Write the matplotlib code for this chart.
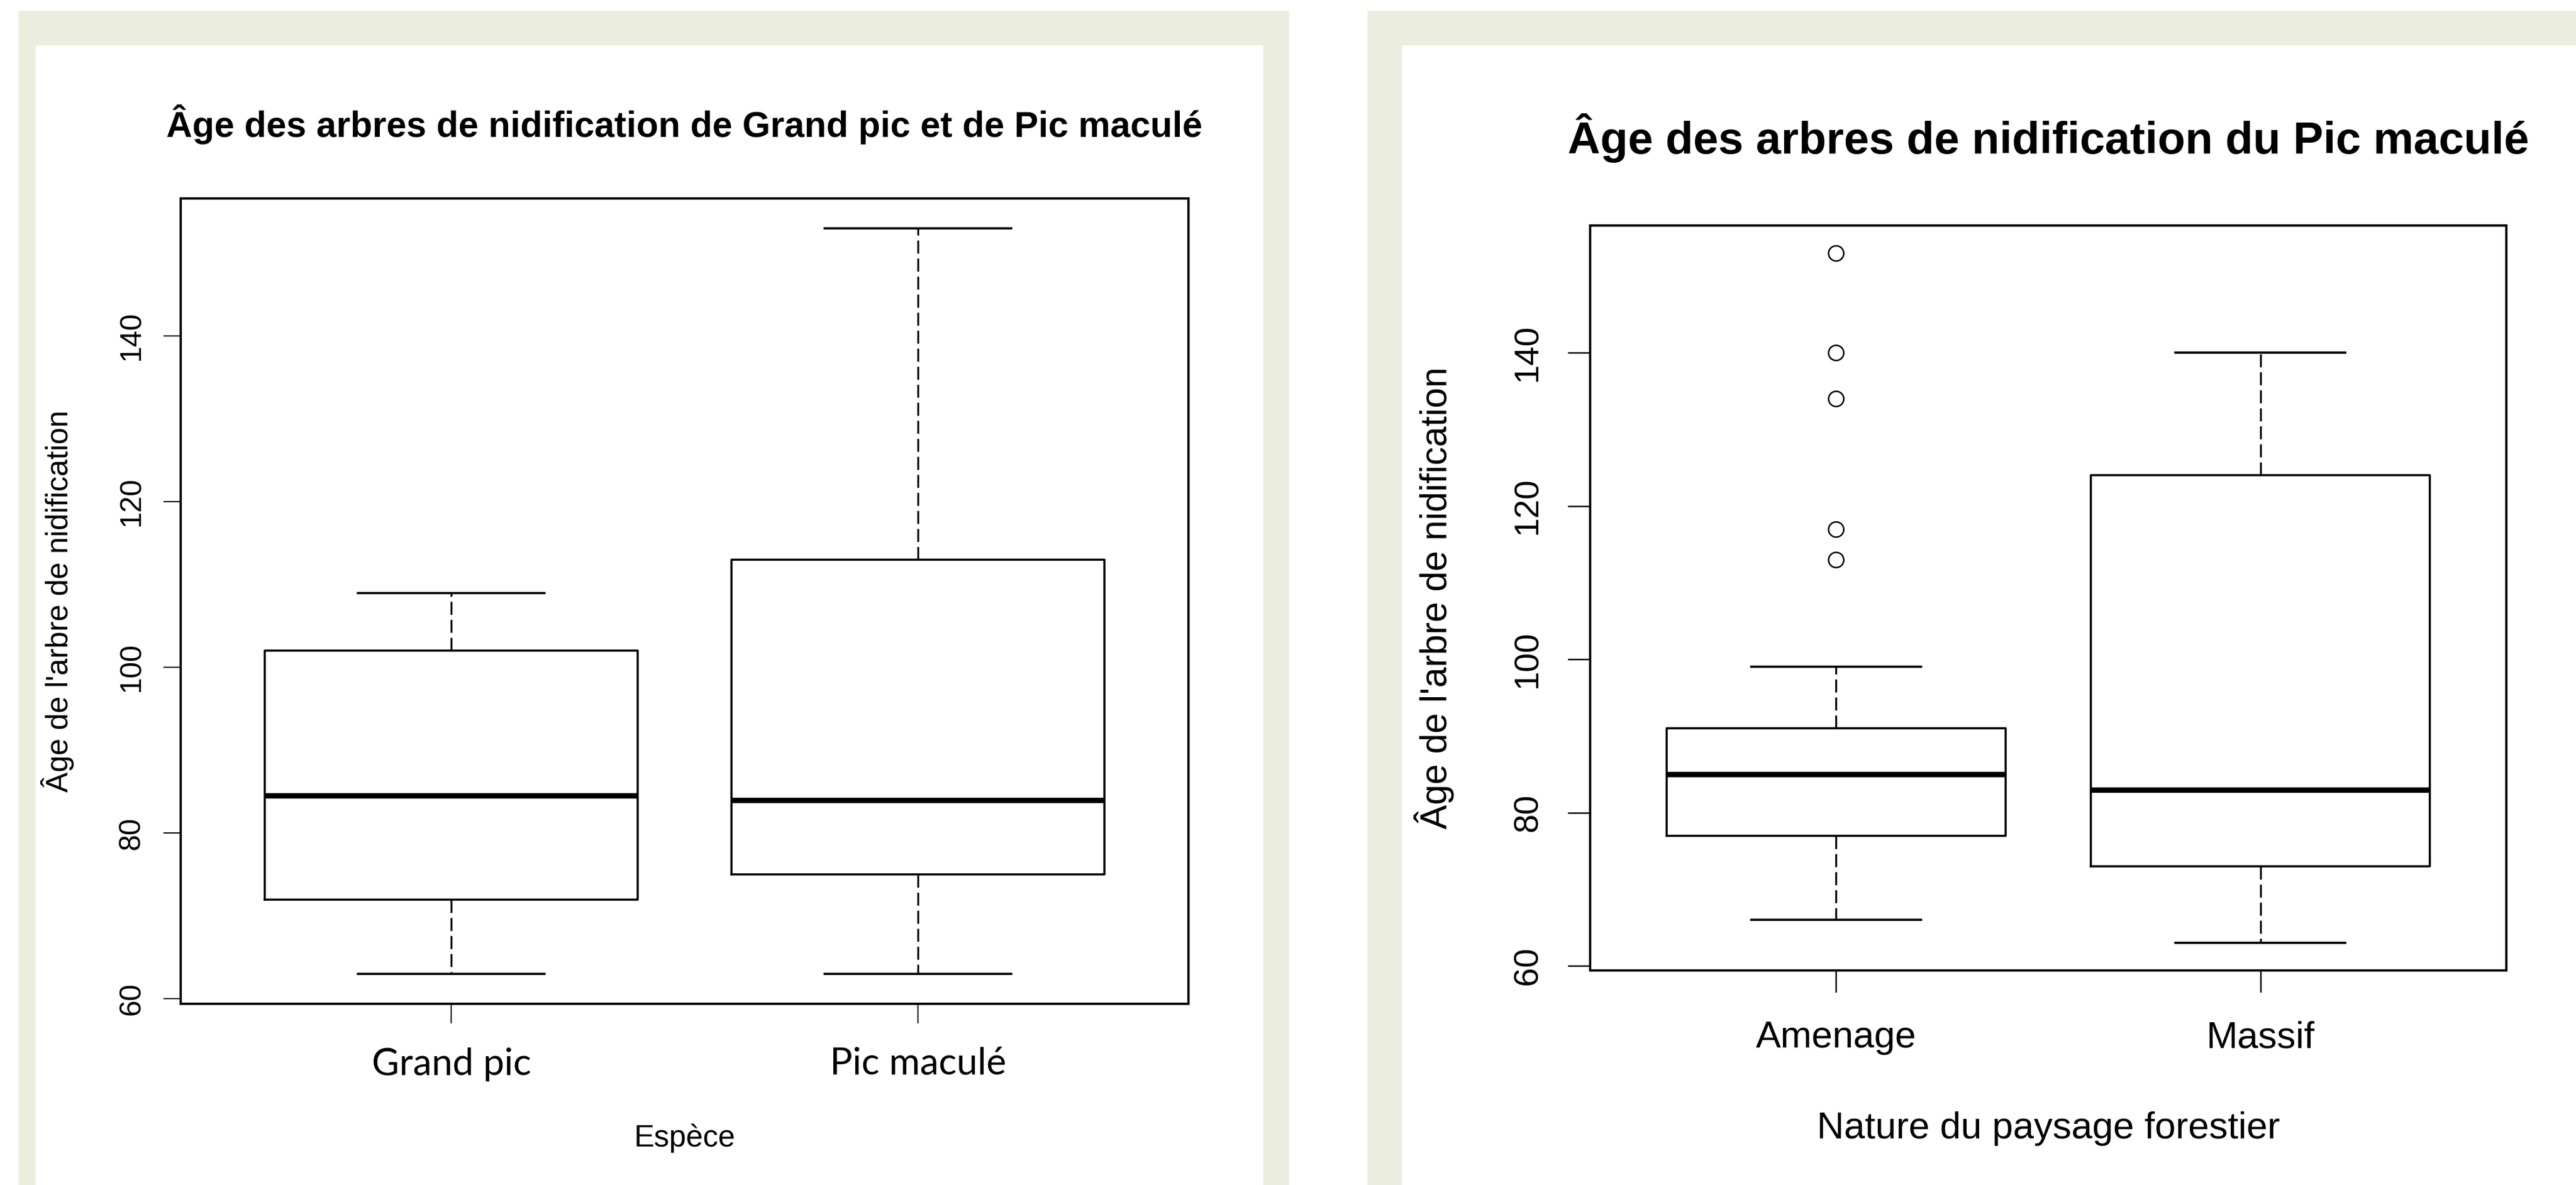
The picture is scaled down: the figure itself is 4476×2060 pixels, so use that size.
import matplotlib
matplotlib.use("Agg")
import matplotlib.pyplot as plt
from matplotlib.patches import Rectangle

# Boxplot summaries
species = ["Grand pic", "Pic maculé"]
sp_whislo = [63, 63]
sp_q1 = [72, 75]
sp_med = [84.5, 84]
sp_q3 = [102, 113]
sp_whishi = [109, 153]

landscape = ["Amenage", "Massif"]
ld_whislo = [66, 63]
ld_q1 = [77, 73]
ld_med = [85, 83]
ld_q3 = [91, 124]
ld_whishi = [99, 140]
ld_fliers = [[153, 140, 134, 117, 113], []]

yticks = [60, 80, 100, 120, 140]

W, H = 4476, 2060
BEIGE = "#EBEEDF"
R_FONT = "Liberation Sans"

fig = plt.figure(figsize=(W / 100, H / 100), dpi=100)


def rect(x0, y0, x1, y1, color):
    # pixel box (top-left origin) -> figure coords
    fig.add_artist(Rectangle((x0 / W, 1 - y1 / H), (x1 - x0) / W, (y1 - y0) / H,
                             transform=fig.transFigure, color=color, lw=0, zorder=-5))


def axes_px(x0, y0, x1, y1):
    return fig.add_axes([x0 / W, 1 - y1 / H, (x1 - x0) / W, (y1 - y0) / H])


# slide-like frames around both panels
rect(32, 19, 2240, H, BEIGE)
rect(62, 79, 2195, H, "white")
rect(2376, 19, W, H, BEIGE)
rect(2436, 79, W, H, "white")


def stats(labels, lo, q1, med, q3, hi, fliers=None):
    out = []
    for i, lab in enumerate(labels):
        out.append(dict(label=lab, whislo=lo[i], q1=q1[i], med=med[i], q3=q3[i],
                        whishi=hi[i], fliers=fliers[i] if fliers else []))
    return out


def r_boxplot(ax, st):
    ax.bxp(st, positions=[1, 2], widths=0.8, capwidths=0.4, showfliers=True,
           boxprops=dict(color="black", lw=2.6),
           medianprops=dict(color="black", lw=6.8, solid_capstyle="butt"),
           whiskerprops=dict(color="black", lw=2.4, linestyle=(0, (6.8, 2.6))),
           capprops=dict(color="black", lw=2.8),
           flierprops=dict(marker="o", markerfacecolor="none", markeredgecolor="black",
                           markersize=19, markeredgewidth=1.9))
    ax.set_xlim(0.42, 2.58)
    ax.set_ylim(59.4, 156.6)
    for s in ax.spines.values():
        s.set_linewidth(2.9)
    ax.set_yticks(yticks)


# ---- left panel
ax1 = axes_px(314, 345, 2065, 1745)
r_boxplot(ax1, stats(species, sp_whislo, sp_q1, sp_med, sp_q3, sp_whishi))
ax1.set_yticklabels([str(v) for v in yticks], rotation=90, va="center",
                    fontsize=37, family=R_FONT)
ax1.set_xticks([1, 2])
ax1.set_xticklabels(species, fontsize=47, family="Lato")
ax1.tick_params(axis="y", length=21.6, width=1.5, pad=22)
ax1.tick_params(axis="x", length=24.5, width=1.5, pad=30)
ax1.set_title("Âge des arbres de nidification de Grand pic et de Pic maculé",
              fontsize=45, fontweight="bold", family=R_FONT, y=1.0764, va="baseline", pad=0)
ax1.set_ylabel("Âge de l'arbre de nidification", fontsize=38, family=R_FONT, va="center")
ax1.yaxis.set_label_coords(-0.1222, 0.5)
ax1.set_xlabel("Espèce", fontsize=38, family=R_FONT, va="baseline")
ax1.xaxis.set_label_coords(0.5, -0.177)

# ---- right panel
ax2 = axes_px(2763, 392, 4355, 1687)
r_boxplot(ax2, stats(landscape, ld_whislo, ld_q1, ld_med, ld_q3, ld_whishi, ld_fliers))
ax2.set_yticklabels([str(v) for v in yticks], rotation=90, va="center",
                    fontsize=43, family=R_FONT)
ax2.set_xticks([1, 2])
ax2.set_xticklabels(landscape, fontsize=47, family=R_FONT)
ax2.tick_params(axis="y", length=28, width=1.8, pad=30)
ax2.tick_params(axis="x", length=27, width=1.8, pad=36)
ax2.set_title("Âge des arbres de nidification du Pic maculé",
              fontsize=56.5, fontweight="bold", family=R_FONT, y=1.0965, va="baseline", pad=0)
ax2.set_ylabel("Âge de l'arbre de nidification", fontsize=46, family=R_FONT, va="center")
ax2.yaxis.set_label_coords(-0.1702, 0.5)
ax2.set_xlabel("Nature du paysage forestier", fontsize=47, family=R_FONT, va="baseline")
ax2.xaxis.set_label_coords(0.5, -0.2255)

fig.savefig("out.png", dpi=100, facecolor="white")
